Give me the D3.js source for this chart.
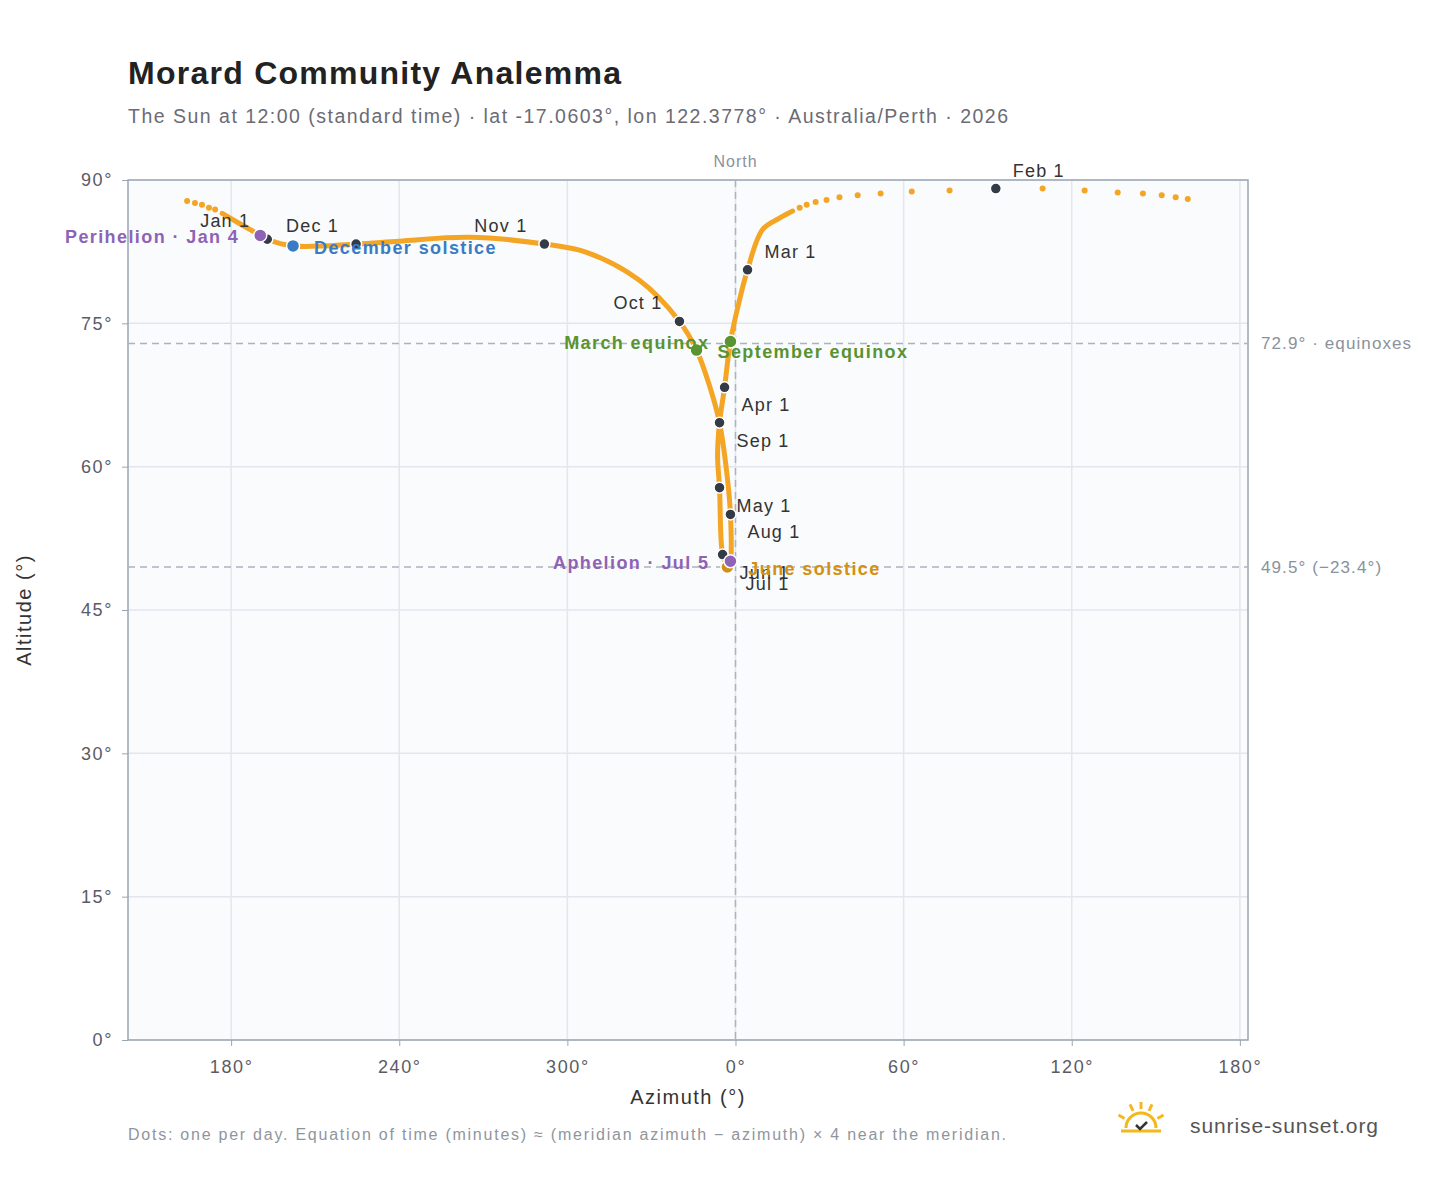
<!DOCTYPE html>
<html><head><meta charset="utf-8">
<script src="https://cdn.jsdelivr.net/npm/d3@7"></script>
<style>body{margin:0;background:#fff;font-family:"Liberation Sans",Arial,sans-serif}</style>
</head><body>
<script>
// path of the sun, chronological (az unwrapped around north: west side negative), alt in degrees
var pathAz  = [20.4,15.7,9.6,4.3,1.4,-1.8,-3.9,-5.7,-6.4,-5.7,-4.6,-2.9,-2.5,-1.8,-1.8,-3.2,-5.7,-9.3,-13.9,-20.0,-34.3,-52.9,-68.2,-95.0,-120.0,-135.4,-157.9,-167.1,-169.6,-183.2];
var pathAlt = [86.75,86.0,84.8,80.6,77.4,73.1,68.3,64.6,61.2,57.8,50.8,49.5,49.6,50.1,55.0,59.6,64.6,68.5,72.2,75.2,79.5,82.4,83.3,84.0,83.6,83.3,83.1,83.8,84.2,86.5];
// sparse daily dots near the zenith
var dotAz  = [-185.7,-187.9,-190.4,-192.9,-195.7,161.4,157.1,152.1,145.4,136.4,124.6,109.6,92.9,76.4,62.9,51.8,43.6,37.1,32.5,28.6,25.4,22.9];
var dotAlt = [86.9,87.1,87.4,87.6,87.8,88.0,88.2,88.4,88.6,88.7,88.9,89.1,89.1,88.9,88.8,88.6,88.4,88.2,87.9,87.7,87.4,87.1];
// month markers
var months   = ["Jan 1","Feb 1","Mar 1","Apr 1","May 1","Jun 1","Jul 1","Aug 1","Sep 1","Oct 1","Nov 1","Dec 1"];
var monthAz  = [-167.1,92.9,4.3,-3.9,-5.7,-4.6,-2.5,-1.8,-5.7,-20.0,-68.2,-135.4];
var monthAlt = [83.8,89.1,80.6,68.3,57.8,50.8,49.6,55.0,64.6,75.2,83.3,83.3];
var monthSide = [-1,1,1,1,1,1,1,1,1,-1,-1,-1];
var monthUp   = [-1,-1,-1,1,1,1,1,1,1,-1,-1,-1];
// special events
var events   = ["Perihelion · Jan 4","March equinox","June solstice","Aphelion · Jul 5","September equinox","December solstice"];
var eventAz  = [-169.6,-1.8,-2.9,-1.8,-13.9,-157.9];
var eventAlt = [84.2,73.1,49.5,50.1,72.2,83.1];
var eventCol = ["#8e63b5","#5a9331","#d39012","#8e63b5","#5a9331","#3a7bc4"];
var eventSide = [-1,-1,1,-1,1,1];
var xTicks = [-180,-120,-60,0,60,120,180];
var yTicks = [0,15,30,45,60,75,90];

var W=1448,H=1188, L=128,R=1248,T=180,B=1040;
var svg=d3.select("body").append("svg").attr("width",W).attr("height",H);
var x=d3.scaleLinear().domain([-216.8,182.9]).range([L,R]);
var y=d3.scaleLinear().domain([0,90]).range([B,T]);

svg.append("text").attr("x",128).attr("y",84).attr("font-size",32).attr("font-weight","bold").attr("fill","#222")
  .attr("textLength",493).attr("lengthAdjust","spacing").text("Morard Community Analemma");
svg.append("text").attr("x",128).attr("y",123).attr("font-size",19.5).attr("fill","#6b6b75")
  .attr("textLength",880).attr("lengthAdjust","spacing").text("The Sun at 12:00 (standard time) · lat -17.0603°, lon 122.3778° · Australia/Perth · 2026");

svg.append("rect").attr("x",L).attr("y",T).attr("width",R-L).attr("height",B-T).attr("fill","#f9fbfd");
var g=svg.append("g");
g.selectAll(".gx").data(xTicks).enter().append("line").attr("x1",d=>x(d)).attr("x2",d=>x(d)).attr("y1",T).attr("y2",B).attr("stroke","#e2e7ee").attr("stroke-width",1.5);
g.selectAll(".gy").data(yTicks).enter().append("line").attr("x1",L).attr("x2",R).attr("y1",d=>y(d)).attr("y2",d=>y(d)).attr("stroke","#e2e7ee").attr("stroke-width",1.5);
svg.append("rect").attr("x",L).attr("y",T).attr("width",R-L).attr("height",B-T).attr("fill","none").attr("stroke","#9aa6b2").attr("stroke-width",1.5);

var fmt=d=>(d<0?d+360:d)+"°";
var xa=svg.append("g").attr("transform","translate(0,"+B+")").call(d3.axisBottom(x).tickValues(xTicks).tickFormat(fmt).tickSize(6).tickPadding(14));
var ya=svg.append("g").attr("transform","translate("+L+",0)").call(d3.axisLeft(y).tickValues(yTicks).tickFormat(d=>d+"°").tickSize(6).tickPadding(9));
[xa,ya].forEach(a=>{a.select(".domain").remove();a.selectAll("line").attr("stroke","#9aa6b2");a.selectAll("text").attr("font-size",18).attr("letter-spacing",1.6).attr("fill","#5b5b66").attr("font-family","Liberation Sans, Arial");});
svg.append("text").attr("x",688).attr("y",1104).attr("text-anchor","middle").attr("font-size",20).attr("letter-spacing",1.5).attr("fill","#333").text("Azimuth (°)");
svg.append("text").attr("transform","translate(31,610) rotate(-90)").attr("text-anchor","middle").attr("font-size",20).attr("letter-spacing",1.5).attr("fill","#333").text("Altitude (°)");

// reference lines
var dash="7,5";
svg.append("line").attr("x1",x(0)).attr("x2",x(0)).attr("y1",T).attr("y2",B).attr("stroke","#aab4bf").attr("stroke-width",1.5).attr("stroke-dasharray",dash);
svg.append("text").attr("x",x(0)).attr("y",167).attr("text-anchor","middle").attr("font-size",16).attr("letter-spacing",1).attr("fill","#8a929c").text("North");
[[72.9,"72.9° · equinoxes"],[49.5,"49.5° (−23.4°)"]].forEach(r=>{
  svg.append("line").attr("x1",L).attr("x2",R).attr("y1",y(r[0])).attr("y2",y(r[0])).attr("stroke","#aab4bf").attr("stroke-width",1.5).attr("stroke-dasharray",dash);
  svg.append("text").attr("x",1261).attr("y",y(r[0])+6).attr("font-size",17).attr("letter-spacing",1.1).attr("fill","#8a929c").text(r[1]);
});

// analemma
var pts=pathAz.map((a,i)=>[x(a),y(pathAlt[i])]);
svg.append("path").attr("d",d3.line().curve(d3.curveCatmullRom)(pts)).attr("fill","none").attr("stroke","#f5a524").attr("stroke-width",5).attr("stroke-linecap","round");
svg.selectAll(".dot").data(dotAz).enter().append("circle").attr("cx",d=>x(d)).attr("cy",(d,i)=>y(dotAlt[i])).attr("r",3).attr("fill","#f5a524");

svg.selectAll(".m").data(months).enter().append("circle").attr("cx",(d,i)=>x(monthAz[i])).attr("cy",(d,i)=>y(monthAlt[i])).attr("r",5.5).attr("fill","#343a46").attr("stroke","#fff").attr("stroke-width",1.5);
svg.selectAll(".ml").data(months).enter().append("text")
  .attr("x",(d,i)=>x(monthAz[i])+17*monthSide[i]).attr("y",(d,i)=>y(monthAlt[i])+18*monthUp[i]+6)
  .attr("text-anchor",(d,i)=>monthSide[i]<0?"end":"start").attr("font-size",18).attr("letter-spacing",1.2).attr("fill","#333").text(d=>d);

svg.selectAll(".e").data(events).enter().append("circle").attr("cx",(d,i)=>x(eventAz[i])).attr("cy",(d,i)=>y(eventAlt[i])).attr("r",6.5).attr("fill",(d,i)=>eventCol[i]).attr("stroke","#fff").attr("stroke-width",1.5);
svg.selectAll(".el").data(events).enter().append("text")
  .attr("x",(d,i)=>x(eventAz[i])+21*eventSide[i]).attr("y",(d,i)=>y(eventAlt[i])+8)
  .attr("text-anchor",(d,i)=>eventSide[i]<0?"end":"start").attr("font-size",18).attr("letter-spacing",1.4).attr("font-weight","bold").attr("fill",(d,i)=>eventCol[i]).text(d=>d);

svg.append("text").attr("x",128).attr("y",1140).attr("font-size",16).attr("fill","#8f959d")
  .attr("textLength",878).attr("lengthAdjust","spacing").text("Dots: one per day. Equation of time (minutes) ≈ (meridian azimuth − azimuth) × 4 near the meridian.");

// logo
var lg=svg.append("g").attr("transform","translate(1141,1128)");
lg.append("path").attr("d","M-15,0 A15,15 0 0 1 15,0").attr("fill","none").attr("stroke","#f2b81c").attr("stroke-width",3);
[-150,-115,-90,-65,-30].forEach(a=>{var r=a*Math.PI/180;lg.append("line").attr("x1",19*Math.cos(r)).attr("y1",19*Math.sin(r)).attr("x2",26*Math.cos(r)).attr("y2",26*Math.sin(r)).attr("stroke","#f2b81c").attr("stroke-width",3);});
lg.append("line").attr("x1",-20).attr("x2",20).attr("y1",3).attr("y2",3).attr("stroke","#f2b81c").attr("stroke-width",3);
lg.append("path").attr("d","M-5,-3 L-1,1 L6,-6").attr("fill","none").attr("stroke","#333").attr("stroke-width",2.5);
svg.append("text").attr("x",1190).attr("y",1133).attr("font-size",21).attr("fill","#555")
  .attr("textLength",188).attr("lengthAdjust","spacing").text("sunrise-sunset.org");
</script>
</body></html>
